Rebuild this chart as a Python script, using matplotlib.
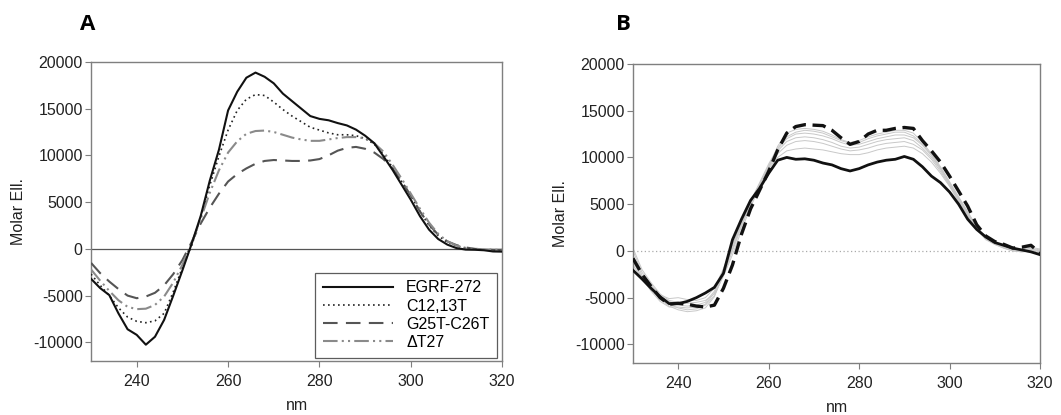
from __future__ import annotations

import matplotlib

matplotlib.use("Agg")
import matplotlib.pyplot as plt
import numpy as np


WAVELENGTH = list(range(230, 322, 2))

# panel A
EGFR_272 = [
    -3200, -4200, -4950, -6900, -8600, -9200, -10250, -9400, -7600, -5000,
    -2300, 500, 3500, 7300, 10600, 14800, 16800, 18300, 18850, 18400,
    17700, 16600, 15800, 15000, 14200, 13900, 13750, 13450, 13200, 12750,
    12100, 11300, 9900, 8450, 6850, 5250, 3500, 2050, 1050, 450,
    80, -80, -100, -150, -280, -300,
]
C12_13T = [
    -2700, -3900, -5000, -6300, -7300, -7750, -7900, -7700, -6900, -4600,
    -2000, 300, 3400, 6800, 9900, 12700, 14800, 16000, 16500, 16400,
    15700, 14900, 14200, 13600, 13000, 12700, 12400, 12200, 12200, 12100,
    11800, 11200, 10100, 8700, 7200, 5700, 4000, 2500, 1400, 700,
    300, 100, 0, -100, -150, -200,
]
G25T_C26T = [
    -1500, -2600, -3500, -4300, -5000, -5280, -5100, -4700, -3900, -2700,
    -1200, 700, 2700, 4400, 5900, 7200, 8000, 8600, 9100, 9400,
    9500, 9450, 9400, 9400, 9450, 9600, 10000, 10500, 10800, 10900,
    10700, 10300, 9600, 8600, 7200, 5700, 4000, 2600, 1500, 800,
    400, 150, 0, -50, -100, -100,
]
DELTA_T27 = [
    -2200, -3400, -4500, -5500, -6200, -6450, -6400, -6000, -5100, -3600,
    -1700, 600, 3200, 6000, 8400, 10300, 11500, 12300, 12600, 12650,
    12500, 12200, 11900, 11700, 11550, 11550, 11700, 11850, 11950, 11950,
    11800, 11300, 10400, 9000, 7500, 5900, 4300, 2800, 1600, 800,
    350, 100, 0, -50, -100, -100,
]
SERIES_A = ["EGRF-272", "C12,13T", "G25T-C26T", "\u0394T27"]

# panel B
B_SOLID = [
    -2070, -3000, -4000, -4900, -5640, -5640, -5400, -5000, -4500, -3900,
    -2400, 1200, 3400, 5400, 6700, 8300, 9700, 10000, 9800, 9850,
    9700, 9400, 9200, 8800, 8550, 8800, 9200, 9500, 9700, 9800,
    10100, 9800, 9000, 8000, 7300, 6300, 5000, 3400, 2300, 1500,
    900, 600, 300, 100, -100, -400,
]
B_DASHED = [
    -800, -2500, -3800, -5000, -5700, -5600, -5700, -5900, -6000, -5800,
    -4000, -1500, 1800, 4500, 6500, 8500, 10800, 12600, 13300, 13500,
    13450, 13400, 12900, 12100, 11400, 11700, 12500, 12900, 12900, 13100,
    13200, 13100, 11800, 10700, 9500, 8000, 6400, 4800, 2800, 1600,
    1000, 700, 300, 400, 600, -200,
]
B_GREY = [
    [300, -2000, -3400, -4600, -5300, -5500, -5600, -5500, -5300, -4600,
     -2700, -400, 2200, 4700, 6800, 9000, 11200, 12600, 13000, 13100,
     13000, 12800, 12400, 11900, 11600, 11800, 12200, 12500, 12700, 12900,
     12900, 12600, 11600, 10400, 9000, 7400, 5800, 4200, 2600, 1500,
     900, 500, 200, 100, 300, 100],
    [-500, -2600, -3800, -4900, -5700, -6100, -6300, -6200, -5800, -4800,
     -2600, 0, 2600, 5000, 7000, 9000, 10900, 12000, 12500, 12600,
     12500, 12300, 12000, 11600, 11300, 11400, 11700, 12000, 12200, 12400,
     12400, 12100, 11300, 10200, 8800, 7200, 5600, 4000, 2500, 1400,
     800, 400, 100, 0, 200, 0],
    [-1500, -3000, -4200, -5200, -5900, -6300, -6500, -6400, -6100, -4900,
     -2400, 300, 2900, 5200, 7100, 8900, 10400, 11300, 11700, 11800,
     11700, 11500, 11200, 10900, 10700, 10800, 11000, 11300, 11500, 11600,
     11700, 11400, 10800, 9800, 8500, 7000, 5400, 3800, 2400, 1300,
     700, 300, 0, -100, 100, -100],
    [-1200, -2800, -3900, -4800, -5400, -5800, -5900, -5800, -5500, -4300,
     -2000, 600, 3100, 5300, 7200, 8800, 10000, 10700, 10900, 11000,
     10900, 10800, 10600, 10400, 10300, 10300, 10500, 10800, 11000, 11100,
     11200, 11000, 10400, 9500, 8300, 6900, 5300, 3700, 2300, 1200,
     700, 300, 0, -100, 0, -200],
    [0, -2300, -3600, -4700, -5100, -5000, -5200, -5300, -5000, -4000,
     -1900, 700, 3000, 5300, 7300, 9300, 11000, 12200, 12700, 12900,
     12800, 12600, 12200, 11800, 11500, 11600, 12000, 12300, 12500, 12700,
     12700, 12300, 11400, 10300, 8900, 7300, 5700, 4100, 2600, 1500,
     900, 500, 200, 200, 400, 200],
    [-1000, -2900, -4300, -5400, -6000, -6000, -6100, -6000, -5700, -4500,
     -2200, 200, 2800, 5100, 7100, 9100, 10700, 11700, 12100, 12200,
     12100, 11900, 11600, 11200, 11000, 11100, 11400, 11700, 11900, 12000,
     12100, 11800, 11000, 10000, 8700, 7100, 5500, 3900, 2400, 1400,
     800, 400, 100, 0, 200, 0],
]

Y_TICKS = [-10000, -5000, 0, 5000, 10000, 15000, 20000]
X_TICKS = [240, 260, 280, 300, 320]
SPINE = "#7f7f7f"


def setup_style() -> None:
    plt.rcParams.update(
        {
            "font.family": ["Liberation Sans", "DejaVu Sans"],
            "font.size": 11.5,
            "xtick.labelsize": 11.5,
            "ytick.labelsize": 11.5,
            "axes.unicode_minus": False,
            "axes.linewidth": 1.0,
            "axes.edgecolor": SPINE,
            "xtick.color": SPINE,
            "ytick.color": SPINE,
            "xtick.labelcolor": "#222222",
            "ytick.labelcolor": "#222222",
            "xtick.major.size": 4,
            "ytick.major.size": 4,
        }
    )


def frame(ax: plt.Axes) -> None:
    ax.set_xlim(230, 320)
    ax.set_ylim(-12000, 20000)
    ax.set_xticks(X_TICKS)
    ax.set_yticks(Y_TICKS)
    ax.tick_params(axis="y", direction="out", pad=2)
    ax.tick_params(axis="x", direction="out", pad=5)
    ax.set_xlabel("nm", labelpad=7, color="#222222")
    ax.set_ylabel("Molar Ell.", labelpad=5, color="#222222")


def plot_panel_a(ax: plt.Axes) -> None:
    x = np.array(WAVELENGTH)
    ax.axhline(0, color="#555555", linewidth=0.9, zorder=1)
    ax.plot(x, EGFR_272, color="#111111", linewidth=1.5, label=SERIES_A[0], zorder=4)
    ax.plot(x, C12_13T, color="#222222", linewidth=1.2, linestyle=(0, (1, 2)), label=SERIES_A[1], zorder=3)
    ax.plot(x, G25T_C26T, color="#555555", linewidth=1.5, linestyle=(0, (7, 4)), label=SERIES_A[2], zorder=3)
    ax.plot(x, DELTA_T27, color="#8a8a8a", linewidth=1.5, linestyle=(0, (7, 2, 1, 2, 1, 2)), label=SERIES_A[3], zorder=3)
    frame(ax)
    leg = ax.legend(
        loc="lower right",
        bbox_to_anchor=(0.988, 0.01),
        borderaxespad=0.0,
        fancybox=False,
        handlelength=4.4,
        handletextpad=0.8,
        borderpad=0.5,
        labelspacing=0.2,
        fontsize=11.5,
    )
    leg.get_frame().set_edgecolor("#333333")
    leg.get_frame().set_linewidth(0.9)


def plot_panel_b(ax: plt.Axes) -> None:
    x = np.array(WAVELENGTH)
    ax.axhline(0, color="#aaaaaa", linewidth=0.9, linestyle=(0, (1, 2)), zorder=1)
    for curve in B_GREY:
        ax.plot(x, curve, color="#c8c8c8", linewidth=0.7, zorder=2)
    ax.plot(x, B_SOLID, color="#111111", linewidth=2.0, zorder=4)
    ax.plot(x, B_DASHED, color="#111111", linewidth=2.4, linestyle=(0, (4, 2)), zorder=5)
    frame(ax)


def main() -> None:
    setup_style()
    fig = plt.figure(figsize=(10.61, 4.15), dpi=100)
    ax_a = fig.add_axes([0.0858, 0.130, 0.3875, 0.721])
    ax_b = fig.add_axes([0.5966, 0.125, 0.3836, 0.721])
    plot_panel_a(ax_a)
    plot_panel_b(ax_b)
    fig.text(0.075, 0.94, "A", fontsize=16, fontweight="bold", family=["Open Sans", "DejaVu Sans"], va="center")
    fig.text(0.581, 0.94, "B", fontsize=16, fontweight="bold", family=["Open Sans", "DejaVu Sans"], va="center")
    fig.savefig("out.png", dpi=100)
    plt.close(fig)


if __name__ == "__main__":
    main()
